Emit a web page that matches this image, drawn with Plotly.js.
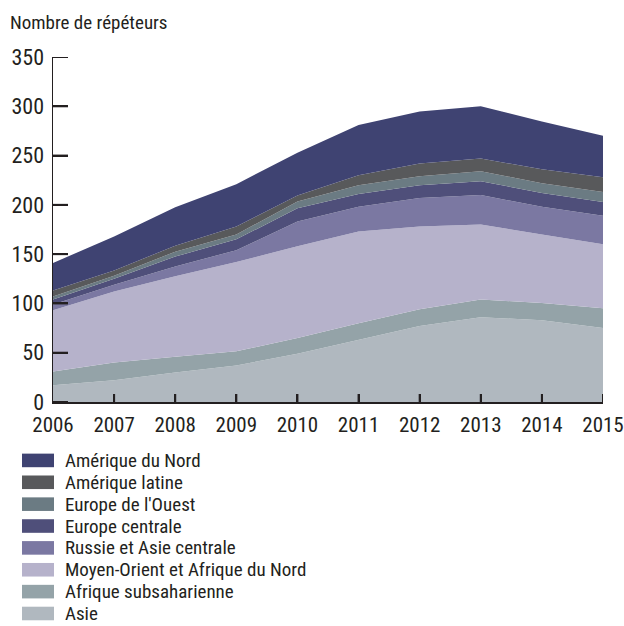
<!DOCTYPE html>
<html>
<head>
<meta charset="utf-8">
<script src="https://cdn.plot.ly/plotly-3.0.1.min.js"></script>
<style>
  html, body { margin: 0; padding: 0; background: #fff; }
  #chart { width: 624px; height: 626px; }
</style>
</head>
<body>
<div id="chart"></div>
<script>
// ---- Data ----
const years = [2006, 2007, 2008, 2009, 2010, 2011, 2012, 2013, 2014, 2015];

const asie        = [17, 22, 30, 37, 49, 63, 77, 86, 83, 75];
const afriqueSub  = [14, 18, 16, 14.5, 16, 17, 17, 18, 17.5, 20];
const moyenOrient = [62, 72, 81.5, 90.5, 93, 93, 84, 76, 69.5, 65];
const russie      = [6, 7, 10, 12, 25, 25, 29, 30, 28, 29];
const europeCent  = [5, 6, 10, 11, 13.5, 13, 13, 14, 14, 14];
const europeOuest = [3, 3, 5, 5, 7, 9, 9, 10, 10, 10];
const ameriqueLat = [6, 5.5, 6, 8, 6, 10, 13, 13, 14, 15];
const ameriqueNord= [28, 34.5, 39, 43, 43.4, 51, 52.6, 53, 48.5, 42];

const seriesNames = [
  "Asie",
  "Afrique subsaharienne",
  "Moyen-Orient et Afrique du Nord",
  "Russie et Asie centrale",
  "Europe centrale",
  "Europe de l'Ouest",
  "Amérique latine",
  "Amérique du Nord"
];
const seriesValues = [asie, afriqueSub, moyenOrient, russie, europeCent, europeOuest, ameriqueLat, ameriqueNord];
const seriesColors = ["#b0b8bf", "#94a3a8", "#b6b2cb", "#7b78a2", "#4f4f7a", "#6b7b83", "#58595b", "#3f4372"];

const yTickVals = [0, 50, 100, 150, 200, 250, 300, 350];
const xTickVals = years;
const yTitle = "Nombre de répéteurs";

const FONT = "'Liberation Sans Narrow', 'Arial Narrow', 'Roboto Condensed', 'Liberation Sans', sans-serif";
const AXIS_COLOR = "#231f20";

const traces = seriesNames.map((name, i) => ({
  type: "scatter",
  mode: "lines",
  x: years,
  y: seriesValues[i],
  name: name,
  stackgroup: "one",
  fillcolor: seriesColors[i],
  line: { width: 0, color: seriesColors[i] },
  showlegend: false,
  hoverinfo: "skip"
}));

const W = 624, H = 626;
const PLOT_W = 550, PLOT_H = 345.5;
const shapes = [];
const annotations = [];

// Inside tick marks (drawn on the axes' own scales)
yTickVals.forEach(v => {
  shapes.push({
    type: "line", xref: "paper", yref: "y", layer: "above",
    x0: 0, x1: 15 / PLOT_W, y0: v, y1: v,
    line: { color: AXIS_COLOR, width: 2 }
  });
});
xTickVals.slice(1).forEach(v => {
  shapes.push({
    type: "line", xref: "x", yref: "paper", layer: "above",
    x0: v, x1: v, y0: 0, y1: 8 / PLOT_H,
    line: { color: AXIS_COLOR, width: 2 }
  });
});

// Legend drawn as swatches + labels (top item = top of stack)
const legendOrder = seriesNames.slice().reverse();
const legendColors = seriesColors.slice().reverse();
const legendTop = 461, legendStep = 21.9;
legendOrder.forEach((name, k) => {
  const cy = legendTop + k * legendStep;
  shapes.push({
    type: "rect", xref: "paper", yref: "paper", layer: "above",
    x0: (22 - 53) / PLOT_W, x1: (54 - 53) / PLOT_W,
    y0: (402.5 - (cy - 6.8)) / PLOT_H, y1: (402.5 - (cy + 6.8)) / PLOT_H,
    fillcolor: legendColors[k], line: { width: 0 }
  });
  annotations.push({
    xref: "paper", yref: "paper",
    x: (64 - 53) / PLOT_W, y: (402.5 - cy) / PLOT_H,
    xanchor: "left", yanchor: "middle",
    text: name, showarrow: false, borderpad: 0,
    font: { family: FONT, size: 19, color: "#231f20" }
  });
});

const layout = {
  width: W, height: H,
  margin: { l: 53, r: 21, t: 57, b: 223.5 },
  paper_bgcolor: "#ffffff",
  plot_bgcolor: "#ffffff",
  showlegend: false,
  font: { family: FONT, color: "#231f20" },
  title: {
    text: yTitle,
    xref: "container", yref: "container",
    x: 10 / W, xanchor: "left",
    y: 1 - 22 / H, yanchor: "middle",
    font: { family: FONT, size: 19, color: "#231f20" }
  },
  xaxis: {
    range: [2006, 2015],
    tickmode: "array",
    tickvals: xTickVals,
    ticktext: xTickVals.map(String),
    ticks: "inside", ticklen: 8, tickwidth: 2, tickcolor: AXIS_COLOR,
    showline: true, linecolor: AXIS_COLOR, linewidth: 1.5,
    showgrid: false, zeroline: false,
    tickfont: { family: FONT, size: 21, color: "#231f20" },
    ticklabelstandoff: 3,
    fixedrange: true
  },
  yaxis: {
    range: [0, 350],
    tickmode: "array",
    tickvals: yTickVals,
    ticks: "inside", ticklen: 15, tickwidth: 2, tickcolor: AXIS_COLOR,
    showline: true, linecolor: AXIS_COLOR, linewidth: 1.5,
    showgrid: false, zeroline: false,
    tickfont: { family: FONT, size: 22, color: "#231f20" },
    ticklabelstandoff: 3,
    fixedrange: true
  },
  shapes: shapes,
  annotations: annotations
};

Plotly.newPlot("chart", traces, layout, { displayModeBar: false, staticPlot: true });
</script>
</body>
</html>
